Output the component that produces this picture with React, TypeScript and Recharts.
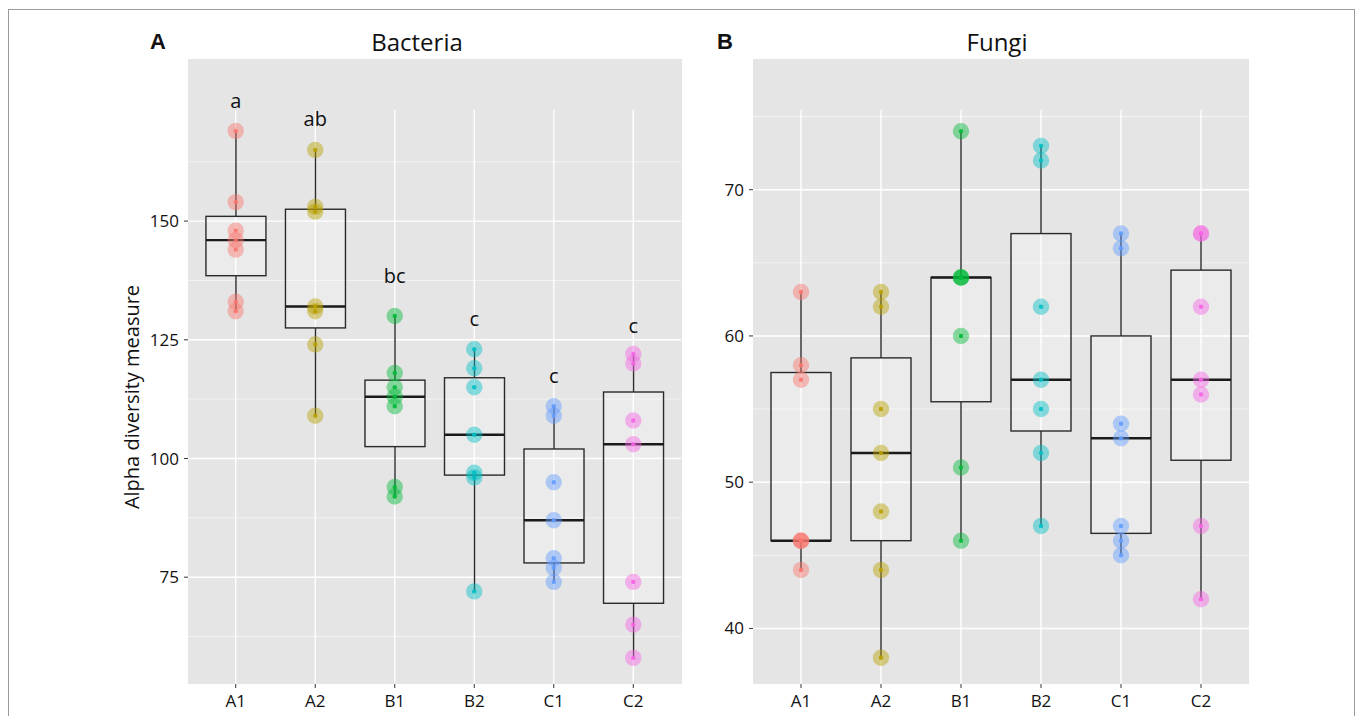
import React from 'react';
import { ComposedChart, Bar, Scatter, XAxis, YAxis, CartesianGrid, ReferenceDot } from 'recharts';

// ---------- data ----------
const groups = ['A1', 'A2', 'B1', 'B2', 'C1', 'C2'];
const groupColors = ['#F8766D', '#B79F00', '#00BA38', '#00BFC4', '#619CFF', '#F564E3'];

const bacteriaA1 = [169, 154, 148, 146, 144, 133, 131];
const bacteriaA2 = [165, 153, 152, 132, 131, 124, 109];
const bacteriaB1 = [130, 118, 115, 113, 111, 94, 92];
const bacteriaB2 = [123, 119, 115, 105, 97, 96, 72];
const bacteriaC1 = [111, 109, 95, 87, 79, 77, 74];
const bacteriaC2 = [122, 120, 108, 103, 74, 65, 58];

const fungiA1 = [63, 58, 57, 46, 46, 46, 44];
const fungiA2 = [63, 62, 55, 52, 48, 44, 38];
const fungiB1 = [74, 64, 64, 64, 60, 51, 46];
const fungiB2 = [73, 72, 62, 57, 55, 52, 47];
const fungiC1 = [67, 66, 54, 53, 47, 46, 45];
const fungiC2 = [67, 67, 62, 57, 56, 47, 42];

const bacteriaLetters = ['a', 'ab', 'bc', 'c', 'c', 'c'];
const bacteriaLetterY = [175.3, 171.7, 138.5, 129.5, 117.4, 128.0];

const bacteriaMajorTicks = [75, 100, 125, 150];
const bacteriaMinorTicks = [62.5, 87.5, 112.5, 137.5, 162.5];
const bacteriaDomain = [52.5, 173.4];

const fungiMajorTicks = [40, 50, 60, 70];
const fungiMinorTicks = [45, 55, 65, 75];
const fungiDomain = [36.2, 75.45];

const groupPositions = [1, 2, 3, 4, 5, 6];

// ---------- helpers ----------
function quantile(sorted: number[], p: number) {
  const h = (sorted.length - 1) * p;
  const lo = Math.floor(h);
  const hi = Math.min(lo + 1, sorted.length - 1);
  return sorted[lo] + (h - lo) * (sorted[hi] - sorted[lo]);
}

function boxStats(values: number[], i: number) {
  const s = [...values].sort((a, b) => a - b);
  const q1 = quantile(s, 0.25);
  const med = quantile(s, 0.5);
  const q3 = quantile(s, 0.75);
  const iqr = q3 - q1;
  const inside = s.filter((v) => v >= q1 - 1.5 * iqr && v <= q3 + 1.5 * iqr);
  return { pos: groupPositions[i], name: groups[i], q1, med, q3, lo: inside[0], hi: inside[inside.length - 1] };
}

const BoxShape = (props: any) => {
  const { x, y, width, height, payload } = props;
  if (x == null || y == null || !payload) return null;
  const top = Math.min(y, y + height);
  const h = Math.abs(height);
  const ppu = h / (payload.q3 - payload.q1);
  const toY = (v: number) => top + (payload.q3 - v) * ppu;
  const cx = x + width / 2;
  return (
    <g>
      <line x1={cx} x2={cx} y1={toY(payload.hi)} y2={top} stroke="#2a2a2a" strokeWidth={1.4} />
      <line x1={cx} x2={cx} y1={top + h} y2={toY(payload.lo)} stroke="#2a2a2a" strokeWidth={1.4} />
      <rect x={x} y={top} width={width} height={h} fill="rgba(255,255,255,0.25)" stroke="#2a2a2a" strokeWidth={1.4} />
      <line x1={x} x2={x + width} y1={toY(payload.med)} y2={toY(payload.med)} stroke="#1a1a1a" strokeWidth={2.4} />
    </g>
  );
};

const makePointShape = (color: string) => (props: any) => {
  const { cx, cy } = props;
  if (cx == null || cy == null) return null;
  return (
    <g>
      <circle cx={cx} cy={cy} r={8.2} fill={color} fillOpacity={0.45} />
      <circle cx={cx} cy={cy} r={2.2} fill={color} fillOpacity={0.9} />
    </g>
  );
};

const FONT = '"Open Sans", "Noto Sans", sans-serif';

type PanelProps = {
  series: number[][];
  domain: number[];
  majorTicks: number[];
  minorTicks: number[];
  letters?: string[];
  letterY?: number[];
  width: number;
};

const Panel = ({ series, domain, majorTicks, minorTicks, letters, letterY, width }: PanelProps) => {
  const boxes = series.map((vals, i) => boxStats(vals, i));
  return (
    <ComposedChart width={width} height={664} data={boxes} margin={{ top: 60, right: 10, bottom: 0, left: 0 }}>
      <CartesianGrid horizontal={true} vertical={false} horizontalValues={minorTicks} stroke="#ffffff" strokeWidth={0.7} strokeOpacity={0.75} fill="none" />
      <CartesianGrid horizontal={true} vertical={true} horizontalValues={majorTicks} verticalValues={groupPositions} stroke="#ffffff" strokeWidth={1.4} fill="none" />
      <XAxis
        type="number"
        dataKey="pos"
        domain={[0.4, 6.6]}
        ticks={groupPositions}
        interval={0}
        allowDataOverflow
        tickFormatter={(v: number) => groups[v - 1]}
        axisLine={false}
        tickSize={4}
        tickMargin={7}
        height={30}
        tickLine={{ stroke: '#333', strokeWidth: 1 }}
        tick={{ fill: '#111', fontSize: 17, fontFamily: FONT }}
      />
      <YAxis
        type="number"
        domain={domain}
        ticks={majorTicks}
        interval={0}
        allowDataOverflow
        width={88}
        axisLine={false}
        tickSize={4}
        tickMargin={5}
        tickLine={{ stroke: '#333', strokeWidth: 1 }}
        tick={{ fill: '#111', fontSize: 17, fontFamily: FONT }}
      />
      <Bar dataKey={(d: any) => [d.q1, d.q3]} barSize={60} shape={BoxShape} isAnimationActive={false} />
      {series.map((vals, i) => (
        <Scatter
          key={groups[i]}
          data={vals.map((v) => ({ pos: groupPositions[i], v }))}
          dataKey="v"
          fill={groupColors[i]}
          shape={makePointShape(groupColors[i])}
          isAnimationActive={false}
        />
      ))}
      {letters &&
        letterY &&
        letters.map((l, i) => (
          <ReferenceDot
            key={'l' + i}
            x={groupPositions[i]}
            y={letterY[i]}
            r={1}
            ifOverflow="visible"
            shape={(p: any) => (
              <text x={p.cx} y={p.cy} textAnchor="middle" dominantBaseline="central" fontSize={20} fontFamily={FONT} fill="#111">
                {l}
              </text>
            )}
          />
        ))}
    </ComposedChart>
  );
};

export default function App() {
  const bacteria = [bacteriaA1, bacteriaA2, bacteriaB1, bacteriaB2, bacteriaC1, bacteriaC2];
  const fungi = [fungiA1, fungiA2, fungiB1, fungiB2, fungiC1, fungiC2];
  return (
    <div style={{ position: 'absolute', left: 0, top: 0, width: 1357, height: 716, overflow: 'hidden', background: '#fff', fontFamily: FONT }}>
      <div style={{ position: 'absolute', left: 8, top: 9, width: 1345, height: 760, border: '1.5px solid #9a9a9a' }} />
      <div style={{ position: 'absolute', left: 188, top: 59, width: 494, height: 625, background: '#e5e5e5' }} />
      <div style={{ position: 'absolute', left: 753, top: 59, width: 496, height: 625, background: '#e5e5e5' }} />
      <div style={{ position: 'absolute', left: 138, top: 28, width: 40, textAlign: 'center', fontSize: 22, lineHeight: '28px', fontWeight: 'bold', fontFamily: '"Liberation Sans", Arial, sans-serif', color: '#111' }}>A</div>
      <div style={{ position: 'absolute', left: 705, top: 28, width: 40, textAlign: 'center', fontSize: 22, lineHeight: '28px', fontWeight: 'bold', fontFamily: '"Liberation Sans", Arial, sans-serif', color: '#111' }}>B</div>
      <div style={{ position: 'absolute', left: 317, top: 27, width: 200, textAlign: 'center', fontSize: 24, lineHeight: '30px', color: '#111' }}>Bacteria</div>
      <div style={{ position: 'absolute', left: 897, top: 27, width: 200, textAlign: 'center', fontSize: 24, lineHeight: '30px', color: '#111' }}>Fungi</div>
      <svg style={{ position: 'absolute', left: 0, top: 0 }} width={1357} height={716}>
        <text transform="translate(131,397) rotate(-90)" textAnchor="middle" dominantBaseline="central" fontSize={20} fontFamily={FONT} fill="#111">
          Alpha diversity measure
        </text>
      </svg>
      <div style={{ position: 'absolute', left: 100, top: 50 }}>
        <Panel series={bacteria} domain={bacteriaDomain} majorTicks={bacteriaMajorTicks} minorTicks={bacteriaMinorTicks} letters={bacteriaLetters} letterY={bacteriaLetterY} width={591} />
      </div>
      <div style={{ position: 'absolute', left: 665, top: 50 }}>
        <Panel series={fungi} domain={fungiDomain} majorTicks={fungiMajorTicks} minorTicks={fungiMinorTicks} width={594} />
      </div>
    </div>
  );
}
